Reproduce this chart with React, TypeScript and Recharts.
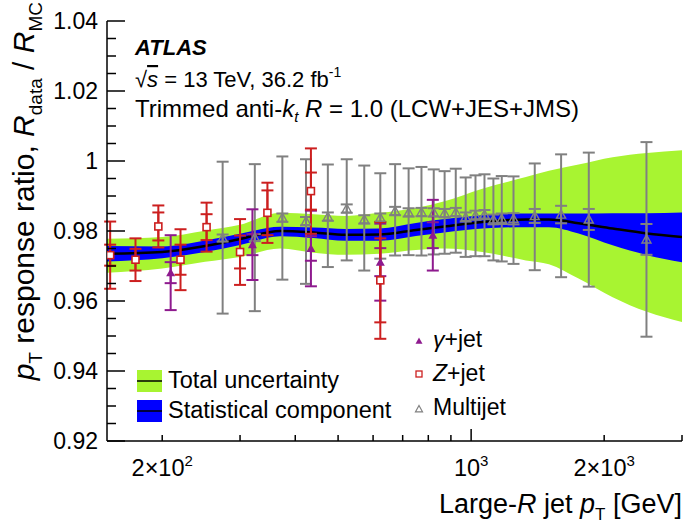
import React from 'react';
import { ComposedChart, Area, Line, Scatter, ErrorBar, XAxis, YAxis } from 'recharts';

// fitted band: central value, statistical and total envelopes
const bandPt = [150, 200, 250, 300, 370, 440, 520, 620, 750, 870, 1060, 1330, 1500, 1750, 2090, 2500, 3000];
const bandMid = [0.9735, 0.974, 0.9757, 0.9777, 0.98, 0.9796, 0.9789, 0.979, 0.9803, 0.9813, 0.9826, 0.9833, 0.9833, 0.9822, 0.9807, 0.9793, 0.9783];
const statLo = [0.9713, 0.9722, 0.974, 0.976, 0.9785, 0.978, 0.9772, 0.9772, 0.9786, 0.9796, 0.9807, 0.9811, 0.9811, 0.9793, 0.9759, 0.9731, 0.9711];
const statHi = [0.9757, 0.9756, 0.9773, 0.9792, 0.9812, 0.981, 0.9806, 0.9807, 0.9823, 0.9834, 0.9845, 0.985, 0.985, 0.985, 0.9851, 0.9851, 0.9853];
const totLo = [0.9681, 0.9693, 0.9712, 0.9726, 0.975, 0.9738, 0.9732, 0.9735, 0.9746, 0.975, 0.974, 0.9716, 0.9705, 0.9664, 0.9611, 0.9569, 0.954];
const totHi = [0.9778, 0.9783, 0.9801, 0.9818, 0.9852, 0.9848, 0.9843, 0.9852, 0.9866, 0.9885, 0.9921, 0.9954, 0.9972, 0.999, 1.0011, 1.0023, 1.0031];

// gamma+jet
const gammaPt = [209, 320, 434, 623, 819];
const gammaVal = [0.9681, 0.9761, 0.975, 0.9711, 0.9788];
const gammaStat = [0.003, 0.003, 0.0035, 0.004, 0.0037];
const gammaTot = [0.0107, 0.0101, 0.0108, 0.011, 0.0101];

// Z+jet
const zPt = [152.5, 174, 196, 220, 252, 300, 346, 434, 623];
const zVal = [0.9731, 0.9718, 0.9813, 0.9718, 0.9811, 0.974, 0.9852, 0.9914, 0.9659];
const zStat = [0.003, 0.0031, 0.004, 0.0043, 0.0037, 0.0047, 0.0064, 0.0053, 0.012];
const zTot = [0.0096, 0.0061, 0.006, 0.0087, 0.007, 0.0094, 0.0086, 0.0122, 0.0167];

// multijet
const mjPt = [274, 324, 374, 423, 474, 523, 573, 623, 673, 722, 772, 823, 871, 923, 972, 1023, 1072, 1123, 1173, 1247, 1393, 1598, 1846, 2493];
const mjVal = [0.978, 0.9781, 0.9838, 0.9828, 0.9841, 0.9864, 0.9833, 0.9838, 0.9857, 0.9853, 0.9854, 0.9853, 0.9851, 0.9854, 0.984, 0.9845, 0.9847, 0.9833, 0.9835, 0.9835, 0.9843, 0.9847, 0.9833, 0.9776];
const mjStat = [0.001, 0.001, 0.0012, 0.0012, 0.0012, 0.0012, 0.0012, 0.0012, 0.0012, 0.0012, 0.0012, 0.0012, 0.0012, 0.0012, 0.0013, 0.0013, 0.0013, 0.0014, 0.0015, 0.0016, 0.002, 0.0025, 0.003, 0.0044];
const mjTotUp = [0.0218, 0.021, 0.0175, 0.0177, 0.0149, 0.0141, 0.0154, 0.0127, 0.0134, 0.0126, 0.0129, 0.0123, 0.012, 0.0124, 0.0113, 0.0114, 0.0115, 0.0117, 0.0122, 0.0121, 0.015, 0.0172, 0.0191, 0.0278];
const mjTotDn = [0.0216, 0.021, 0.0177, 0.0179, 0.0144, 0.0148, 0.0146, 0.0117, 0.0127, 0.0122, 0.0124, 0.012, 0.0116, 0.0116, 0.0114, 0.0117, 0.0119, 0.0117, 0.0122, 0.0129, 0.0155, 0.0179, 0.0192, 0.0278];

// axes
const xTicks = [200, 300, 400, 500, 600, 700, 800, 900, 1000, 2000, 3000];
const xMajor = [200, 1000, 2000];
const xMajorBase = ['2\u00d710', '10', '2\u00d710'];
const xMajorExp = ['2', '3', '3'];
const yTicks = [0.92, 0.925, 0.93, 0.935, 0.94, 0.945, 0.95, 0.955, 0.96, 0.965, 0.97, 0.975, 0.98, 0.985, 0.99, 0.995, 1.0, 1.005, 1.01, 1.015, 1.02, 1.025, 1.03, 1.035, 1.04];

const GREEN = '#a8f431';
const BLUE = '#0000ff';
const PURPLE = '#8e1a8e';
const RED = '#cc1f1f';
const GRAY = '#808080';
const FONT = '"Liberation Sans", Arial, Helvetica, sans-serif';

const band = bandPt.map((p, i) => ({
  p,
  c: bandMid[i],
  stat: [statLo[i], statHi[i]],
  tot: [totLo[i], totHi[i]],
}));
const gamma = gammaPt.map((p, i) => ({ p, v: gammaVal[i], stat: gammaStat[i], tot: gammaTot[i] }));
const zjet = zPt.map((p, i) => ({ p, v: zVal[i], stat: zStat[i], tot: zTot[i] }));
const multijet = mjPt.map((p, i) => ({ p, v: mjVal[i], stat: mjStat[i], tot: [mjTotDn[i], mjTotUp[i]] }));

const triPath = (cx: number, cy: number, s: number) =>
  `M${cx},${cy - s} L${cx + s},${cy + s * 0.8} L${cx - s},${cy + s * 0.8} Z`;

const FilledTri = ({ cx, cy }: any) => <path d={triPath(cx, cy, 4.5)} fill={PURPLE} />;
const OpenSquare = ({ cx, cy }: any) => (
  <rect x={cx - 3.5} y={cy - 3.5} width={7} height={7} fill="#fff" stroke={RED} strokeWidth={1.6} />
);
const OpenTri = ({ cx, cy }: any) => (
  <path d={triPath(cx, cy, 4.5)} fill="none" stroke={GRAY} strokeWidth={1.4} />
);

const XTick = ({ x, y, payload, top }: any) => {
  const v = payload.value;
  const len = v === 1000 ? 12 : 6;
  const i = xMajor.indexOf(v);
  return (
    <g>
      <line x1={x} x2={x} y1={y} y2={top ? y + len : y - len} stroke="#000" strokeWidth={1.5} />
      {!top && i >= 0 && (
        <text x={x} y={y + 35} textAnchor="middle" fontSize={23.5} fontFamily={FONT} fill="#000">
          {xMajorBase[i]}
          <tspan fontSize={15} dy={-10}>{xMajorExp[i]}</tspan>
        </text>
      )}
    </g>
  );
};

const YTick = ({ x, y, payload, right }: any) => {
  const v = payload.value;
  const major = Math.round(v * 1000) % 20 === 0;
  const len = major ? 18 : 9;
  const label = Math.abs(v - 1) < 1e-9 ? '1' : v.toFixed(2);
  return (
    <g>
      <line x1={x} x2={right ? x - len : x + len} y1={y} y2={y} stroke="#000" strokeWidth={1.5} />
      {!right && major && (
        <text x={x - 9} y={y + 8} textAnchor="end" fontSize={23} fontFamily={FONT} fill="#000">
          {label}
        </text>
      )}
    </g>
  );
};

export default function App() {
  return (
    <div style={{ position: 'absolute', left: 0, top: 0, width: 685, height: 532, background: '#fff' }}>
      <ComposedChart width={685} height={532} margin={{ top: 21, right: 3, left: 0, bottom: 0 }}>
        <XAxis
          dataKey="p"
          type="number"
          scale="log"
          domain={[150, 3000]}
          allowDataOverflow
          ticks={xTicks}
          interval={0}
          height={91}
          tickSize={0}
          tickMargin={0}
          tickLine={false}
          axisLine={{ stroke: '#000', strokeWidth: 1.5 }}
          tick={(p: any) => <XTick {...p} />}
        />
        <XAxis
          xAxisId="top"
          orientation="top"
          dataKey="p"
          type="number"
          scale="log"
          domain={[150, 3000]}
          allowDataOverflow
          ticks={xTicks}
          interval={0}
          height={0}
          tickSize={0}
          tickMargin={0}
          tickLine={false}
          axisLine={{ stroke: '#000', strokeWidth: 1.5 }}
          tick={(p: any) => <XTick {...p} top />}
        />
        <YAxis
          type="number"
          domain={[0.92, 1.04]}
          allowDataOverflow
          ticks={yTicks}
          interval={0}
          width={107}
          tickSize={0}
          tickMargin={0}
          tickLine={false}
          axisLine={{ stroke: '#000', strokeWidth: 1.5 }}
          tick={(p: any) => <YTick {...p} />}
        />
        <YAxis
          yAxisId="right"
          orientation="right"
          type="number"
          domain={[0.92, 1.04]}
          allowDataOverflow
          ticks={yTicks}
          interval={0}
          width={0}
          tickSize={0}
          tickMargin={0}
          tickLine={false}
          axisLine={{ stroke: '#000', strokeWidth: 1.5 }}
          tick={(p: any) => <YTick {...p} right />}
        />
        <Area data={band} dataKey="tot" type="monotone" fill={GREEN} fillOpacity={1} stroke="none" isAnimationActive={false} />
        <Area data={band} dataKey="stat" type="monotone" fill={BLUE} fillOpacity={1} stroke="none" isAnimationActive={false} />
        <Line data={band} dataKey="c" type="monotone" stroke="#000" strokeWidth={2.5} dot={false} isAnimationActive={false} />
        <Line data={band} dataKey="c" xAxisId="top" yAxisId="right" stroke="none" dot={false} isAnimationActive={false} />
        <Scatter data={multijet} dataKey="v" shape={<OpenTri />} isAnimationActive={false}>
          <ErrorBar dataKey="tot" direction="y" width={6} stroke={GRAY} strokeWidth={2} />
          <ErrorBar dataKey="stat" direction="y" width={6} stroke={GRAY} strokeWidth={2} />
        </Scatter>
        <Scatter data={gamma} dataKey="v" shape={<FilledTri />} isAnimationActive={false}>
          <ErrorBar dataKey="tot" direction="y" width={6} stroke={PURPLE} strokeWidth={2} />
          <ErrorBar dataKey="stat" direction="y" width={6} stroke={PURPLE} strokeWidth={2} />
        </Scatter>
        <Scatter data={zjet} dataKey="v" shape={<OpenSquare />} isAnimationActive={false}>
          <ErrorBar dataKey="tot" direction="y" width={6} stroke={RED} strokeWidth={2} />
          <ErrorBar dataKey="stat" direction="y" width={6} stroke={RED} strokeWidth={2} />
        </Scatter>
      </ComposedChart>
      <svg
        width={685}
        height={532}
        style={{ position: 'absolute', left: 0, top: 0, pointerEvents: 'none' }}
        fontFamily={FONT}
      >
        <text transform="translate(34,2) rotate(-90)" textAnchor="end" fontSize={30} fill="#000">
          <tspan fontStyle="italic">p</tspan>
          <tspan fontSize={19} dy={8}>T</tspan>
          <tspan dy={-8}> response ratio, </tspan>
          <tspan fontStyle="italic">R</tspan>
          <tspan fontSize={19} dy={8}>data</tspan>
          <tspan dy={-8}> / </tspan>
          <tspan fontStyle="italic">R</tspan>
          <tspan fontSize={19} dy={8}>MC</tspan>
        </text>
        <text x={682} y={513} textAnchor="end" fontSize={27} fill="#000">
          Large-<tspan fontStyle="italic">R</tspan> jet <tspan fontStyle="italic">p</tspan>
          <tspan fontSize={17} dy={7}>T</tspan>
          <tspan dy={-7}> [GeV]</tspan>
        </text>

        <text x={135} y={55} fontSize={22} fontWeight="bold" fontStyle="italic" fill="#000">ATLAS</text>
        <text x={135} y={87} fontSize={22} fill="#000">
          {'\u221a'}<tspan fontStyle="italic" textDecoration="overline">s</tspan> = 13 TeV, 36.2 fb
          <tspan fontSize={14} dy={-10}>-1</tspan>
        </text>
        <text x={135} y={117} fontSize={24} fill="#000">
          Trimmed anti-<tspan fontStyle="italic">k</tspan>
          <tspan fontStyle="italic" fontSize={15} dy={5}>t</tspan>
          <tspan dy={-5}> </tspan>
          <tspan fontStyle="italic">R</tspan> = 1.0 (LCW+JES+JMS)
        </text>

        <rect x={137} y={370} width={25} height={22} fill={GREEN} />
        <line x1={137} x2={162} y1={381} y2={381} stroke="#000" strokeWidth={1.5} />
        <rect x={137} y={400} width={25} height={22} fill={BLUE} />
        <line x1={137} x2={162} y1={411} y2={411} stroke="#000" strokeWidth={1.5} />
        <text x={168} y={388} fontSize={23.5} fill="#000">Total uncertainty</text>
        <text x={168} y={418} fontSize={23.5} fill="#000">Statistical component</text>

        <path d={triPath(419, 341, 3.5)} fill={PURPLE} />
        <rect x={416} y={371} width={6} height={6} fill="#fff" stroke={RED} strokeWidth={1.3} />
        <path d={triPath(419, 409, 3.5)} fill="none" stroke={GRAY} strokeWidth={1.2} />
        <text x={433} y={347} fontSize={23} fill="#000">
          <tspan fontStyle="italic">{'\u03b3'}</tspan>+jet
        </text>
        <text x={433} y={381} fontSize={23} fill="#000">
          <tspan fontStyle="italic">Z</tspan>+jet
        </text>
        <text x={433} y={415} fontSize={23} fill="#000">Multijet</text>
      </svg>
    </div>
  );
}
